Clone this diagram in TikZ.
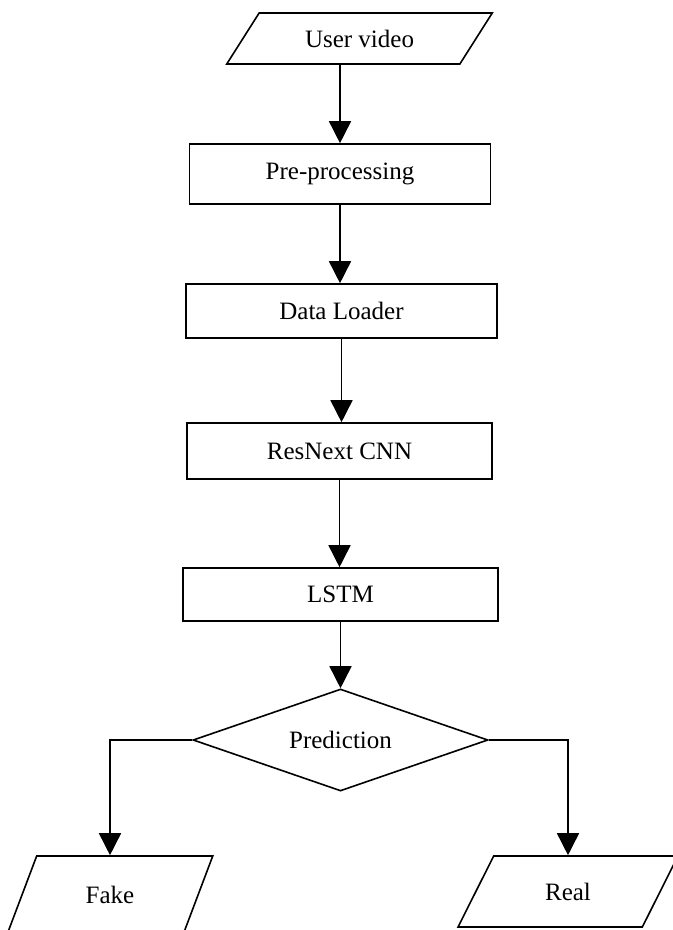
\documentclass[tikz,border=0pt]{standalone}
\usepackage{fontspec}
\setmainfont{Liberation Serif}
\usetikzlibrary{shapes.geometric,arrows.meta}
\begin{document}
\begin{tikzpicture}[x=0.5pt,y=-0.5pt,line width=0.8pt,>={Triangle[width=11pt,length=11pt]}]
	\tikzset{every node/.style={font=\fontsize{12.5}{15}\selectfont,inner sep=0pt},
		box/.style 2 args={draw,rectangle,minimum width=#1,minimum height=#2},
		io/.style={draw,trapezium,trapezium left angle=#1,trapezium right angle=180-#1,trapezium stretches=true}}
	\useasboundingbox (0,0) rectangle (673,930);
	\node[io=45,minimum width=133.5pt,minimum height=25.5pt] (user) at (359.5,38.5) {User video};
	\node[box={150.5pt}{30pt}] (pre) at (340,174) {Pre-processing};
	\node[box={155.5pt}{27pt}] (load) at (341.5,311) {Data Loader};
	\node[box={152.5pt}{28pt}] (resnext) at (339.5,451) {ResNext CNN};
	\node[box={157.5pt}{26.5pt}] (lstm) at (340.5,594.5) {LSTM};
	\node[draw,diamond,aspect=2.9,minimum width=147.5pt,minimum height=51pt] (pred) at (340.5,740) {Prediction};
	\node[io=61,minimum width=103pt,minimum height=39pt] (fake) at (110,895) {Fake};
	\node[io=58,minimum width=110pt,minimum height=35.5pt] (real) at (568,891.5) {Real};
	\draw[->] (user.south -| pre.north) -- (pre.north);
	\foreach \a/\b in {pre/load,load/resnext,resnext/lstm,lstm/pred}
	\draw[->] (\a.south) -- (\a.south |- \b.north);
	\draw[->] (pred.west) -| (fake.center |- fake.north);
	\draw[->] (pred.east) -| (real.center |- real.north);
\end{tikzpicture}
\end{document}
